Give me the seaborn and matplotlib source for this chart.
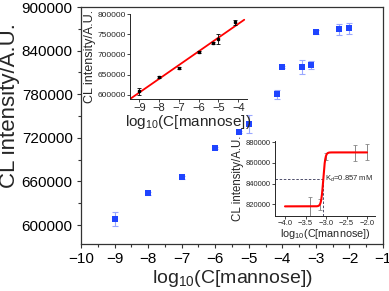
import numpy as np
import pandas as pd
import matplotlib
matplotlib.use('Agg')
import matplotlib.pyplot as plt
import seaborn as sns
from matplotlib.ticker import MultipleLocator

# data
log_c = [-9, -8, -7, -6, -5.3, -5, -4.15, -4, -3.4, -3.15, -3, -2.3, -2]
cl_int = [608000, 644000, 666000, 706000, 728000, 739000, 780000,
          817000, 817500, 820000, 866000, 869500, 870500]
cl_err = [9600, 2000, 2000, 2000, 2000, 12000, 6500, 1500, 9600, 5500, 3000, 7600, 7800]

# low concentration (linear) range and high range (sigmoid)
lin_idx = list(range(0, 7))
sig_idx = list(range(8, 13))
kd_mM = 0.857
sig_bottom, sig_top = 818000, 870000
sig_width = 0.025

df = pd.DataFrame({'x': log_c, 'y': cl_int, 'err': cl_err})
df_lin = df.iloc[lin_idx]
df_sig = df.iloc[sig_idx]

sns.set_theme(style="ticks")
plt.rcParams['font.family'] = ['Liberation Sans', 'DejaVu Sans']
plt.rcParams['mathtext.fontset'] = 'custom'
plt.rcParams['mathtext.rm'] = 'Liberation Sans'
plt.rcParams['mathtext.it'] = 'Liberation Sans:italic'

xlab = r'log$_{10}$(C[mannose])'
ylab = 'CL intensity/A.U.'

fig = plt.figure(figsize=(3.89, 2.91), dpi=100)

# --- main plot ---
ax = fig.add_axes([81/389, 1-244/291, 302/389, 237/291])
ax.errorbar(df['x'], df['y'], yerr=df['err'], fmt='none', ecolor='#9aa8ff',
            elinewidth=0.8, capsize=2, capthick=0.8, zorder=2)
sns.scatterplot(data=df, x='x', y='y', marker='s', s=22, color='#1f44ff',
                edgecolor='#1f44ff', linewidth=0, ax=ax, zorder=3)
ax.set_xlim(-10, -1)
ax.set_ylim(574000, 900000)
ax.set_yticks([600000, 660000, 720000, 780000, 840000, 900000])
ax.xaxis.set_major_locator(MultipleLocator(1))
ax.xaxis.set_minor_locator(MultipleLocator(0.5))
ax.yaxis.set_minor_locator(MultipleLocator(30000))
ax.ticklabel_format(style='plain', axis='y')
ax.tick_params(labelsize=11, length=3, width=0.8, pad=3, colors='#333333', labelcolor='black')
ax.tick_params(which='minor', length=2, width=0.8, colors='#333333')
for s in ax.spines.values():
    s.set_color('#333333')
    s.set_linewidth(0.9)
ax.set_xlabel(xlab, fontsize=14, labelpad=1)
ax.set_ylabel(ylab, fontsize=16)
ax.yaxis.set_label_coords(-0.202, 0.585)

# --- inset 1: linear range ---
ax1 = fig.add_axes([130/389, 1-99/291, 117/389, 85/291])
coef = np.polyfit(df_lin['x'], df_lin['y'], 1)
fit_x = np.linspace(-9.5, -3.7, 50)
sns.lineplot(x=fit_x, y=np.polyval(coef, fit_x), color='red', linewidth=1.3, ax=ax1)
ax1.errorbar(df_lin['x'], df_lin['y'], yerr=df_lin['err'], fmt='s', color='black',
             markersize=2, elinewidth=0.6, capsize=1.5, capthick=0.6, zorder=3)
ax1.set_xlim(-9.47, -3.56)
ax1.set_ylim(589000, 801000)
ax1.set_xticks([-9, -8, -7, -6, -5, -4])
ax1.set_yticks([600000, 650000, 700000, 750000, 800000])
ax1.ticklabel_format(style='plain', axis='y')
ax1.tick_params(axis='x', labelsize=8, length=2, width=0.6, pad=1)
ax1.tick_params(axis='y', labelsize=6, length=2, width=0.6, pad=1)
ax1.spines['top'].set_visible(False)
ax1.spines['right'].set_visible(False)
for s in ['left', 'bottom']:
    ax1.spines[s].set_linewidth(0.7)
ax1.patch.set_alpha(0)
ax1.set_xlabel(xlab, fontsize=11, labelpad=0)
ax1.set_ylabel(ylab, fontsize=9, labelpad=1)

# --- inset 2: saturation range ---
ax2 = fig.add_axes([275/389, 1-215.7/291, 100/389, 74.7/291])
x0 = np.log10(kd_mM * 1e-3)
sig_x = np.linspace(-4.0, -2.0, 400)
sig_y = sig_top + (sig_bottom - sig_top) / (1 + np.exp((sig_x - x0) / sig_width))
sns.lineplot(x=sig_x, y=sig_y, color='red', linewidth=1.5, ax=ax2, zorder=3)
ax2.errorbar(df_sig['x'], df_sig['y'], yerr=df_sig['err'], fmt='none', ecolor='#888888',
             elinewidth=0.7, capsize=1.5, capthick=0.6, zorder=2)
half = (sig_bottom + sig_top) / 2
ax2.plot([-4.25, x0], [half, half], ls='--', color='#333355', lw=0.6, dashes=(3, 2))
ax2.plot([x0, x0], [809000, half], ls='--', color='#333355', lw=0.6, dashes=(3, 2))
ax2.text(x0 + 0.04, half, r'K$_d$=%.3f mM' % kd_mM, fontsize=5.5, va='center', ha='left')
ax2.set_xlim(-4.244, -1.805)
ax2.set_ylim(809000, 881000)
ax2.set_xticks([-4.0, -3.5, -3.0, -2.5, -2.0])
ax2.set_yticks([820000, 840000, 860000, 880000])
ax2.ticklabel_format(style='plain', axis='y')
ax2.tick_params(labelsize=5.5, length=2, width=0.6, pad=1)
ax2.spines['top'].set_visible(False)
ax2.spines['right'].set_visible(False)
for s in ['left', 'bottom']:
    ax2.spines[s].set_linewidth(0.7)
ax2.patch.set_alpha(0)
ax2.set_xlabel(xlab, fontsize=7.8, labelpad=0)
ax2.set_ylabel(ylab, fontsize=8.3, labelpad=1)

fig.savefig('out.png', dpi=100)
